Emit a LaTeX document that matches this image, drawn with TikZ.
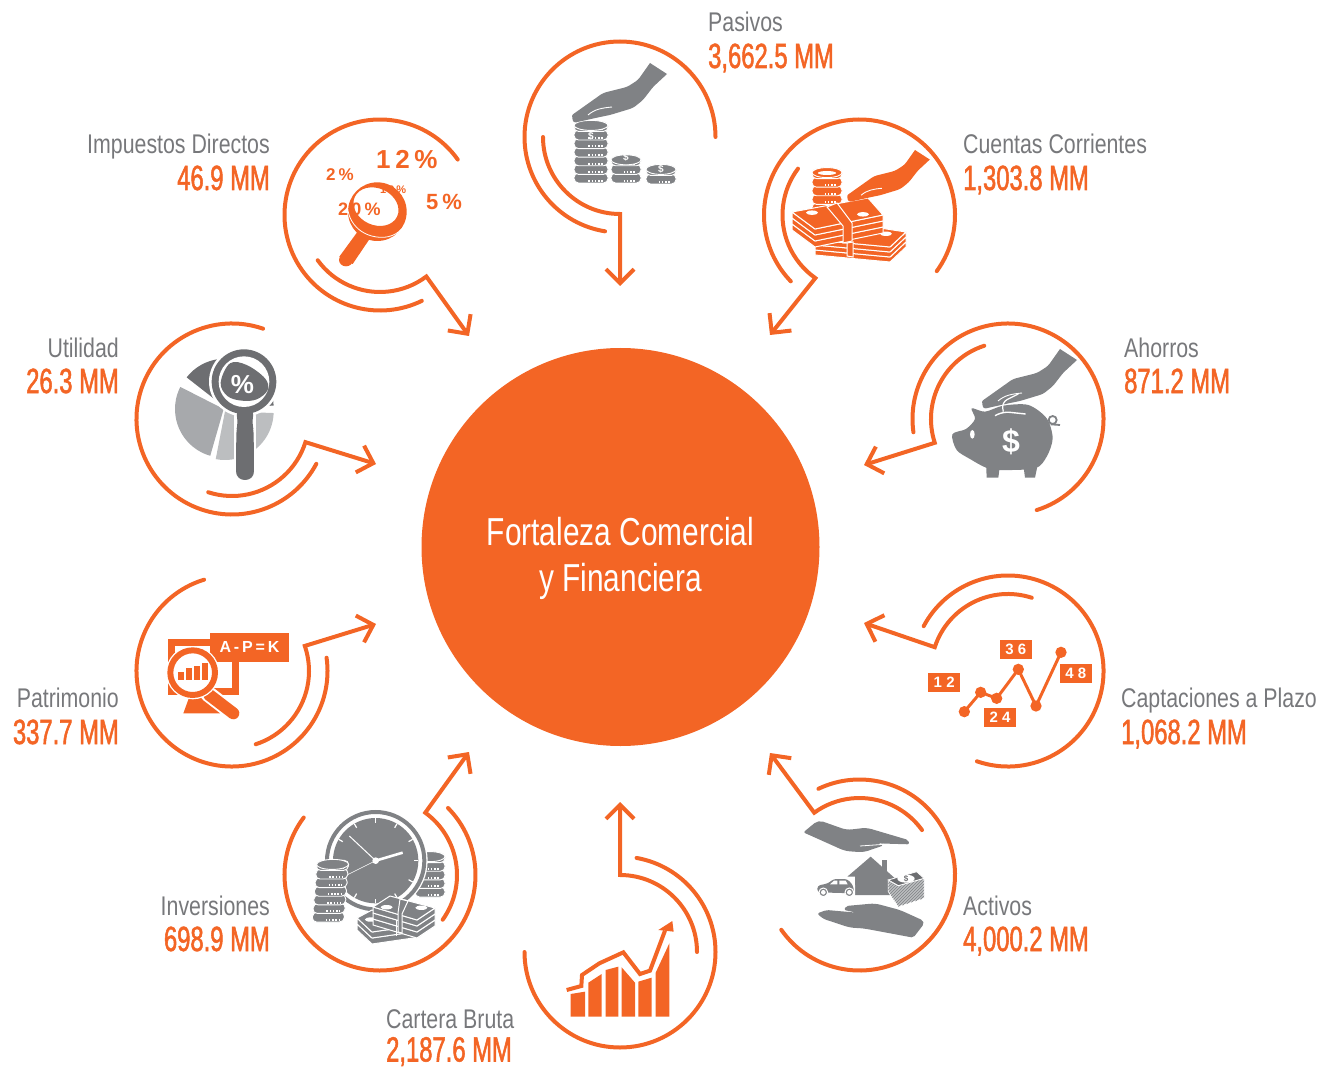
\documentclass[tikz,border=0pt]{standalone}
\usepackage{fontspec}
\usetikzlibrary{calc,arrows.meta,patterns}
\setmainfont{Liberation Sans}
\newfontfamily\labfont[FakeStretch=.79]{Liberation Sans}
\newfontfamily\numfont[FakeStretch=.68,FakeBold=1.5]{Liberation Sans}
\newfontfamily\corefont[FakeStretch=.766]{Liberation Sans}
\newfontfamily\iconfont[LetterSpace=18]{Liberation Sans}
\newfontfamily\tagfont[LetterSpace=28]{Liberation Sans}
\definecolor{brand}{HTML}{F36525}
\definecolor{labgrey}{HTML}{77787B}
\definecolor{icongrey}{HTML}{808285}
\definecolor{icondark}{HTML}{6D6E71}
\definecolor{iconmid}{HTML}{A7A9AC}
\definecolor{iconlight}{HTML}{BCBEC0}
\tikzset{
  ringline/.style={draw=brand,line width=4pt,line cap=round},
  flowline/.style={draw=brand,line width=4pt,line cap=round,line join=miter,miter limit=12,-{Straight Barb[length=14pt,width=28pt]}},
  labeltext/.style={font=\labfont\fontsize{27}{27}\selectfont,text=labgrey,inner sep=0pt},
  valuetext/.style={font=\numfont\fontsize{35}{35}\selectfont,text=brand,inner sep=0pt},
  tagbox/.style={fill=brand,text=white,inner sep=0pt,minimum width=32pt,minimum height=19pt,font=\tagfont\bfseries\fontsize{15}{15}\selectfont},
  pct/.style={text=brand,inner sep=0pt,anchor=base west,font=\iconfont\bfseries},
  whitemark/.style={text=white,inner sep=0pt,font=\bfseries},
}
\newcommand\ringarrow[9]{%
  \coordinate (#1-c) at (#2,#3);
  \coordinate (#1-t) at (#8,#9);
  \draw[ringline] ($(#1-c)+(#4:95.5pt)$) arc[start angle=#4,end angle=#5,radius=95.5pt];
  \draw[flowline] ($(#1-c)+(#6:77pt)$) arc[start angle=#6,end angle=#7,radius=77pt] -- (#1-t);
}
\newcommand\metricL[6]{%
  \node[labeltext,anchor=base west] (#1-l) at (#2,#3) {#5};
  \node[valuetext,anchor=base west] (#1-v) at (#2,#4) {#6};
}
\newcommand\metricR[6]{%
  \node[labeltext,anchor=base east] (#1-l) at (#2,#3) {#5};
  \node[valuetext,anchor=base east] (#1-v) at (#2,#4) {#6};
}
\newcommand\coinstack[5]{%
  \foreach \i in {1,...,#3}{%
    \pgfmathsetmacro\yy{#2-(\i-1)*8.6}
    \draw[white,line width=.9pt,fill=#5,rounded corners=4.5pt] (#1-#4,\yy) rectangle (#1+#4,\yy-10);
    \draw[white,line width=2pt,dash pattern=on 1.5pt off 1.7pt] (#1-#4*.15,\yy-2.2) -- (#1+#4*.7,\yy-2.2);
  }
  \pgfmathsetmacro\yt{#2-(#3-1)*8.6-6}
  \draw[white,line width=.9pt,fill=#5] (#1,\yt) ellipse[x radius=#4pt,y radius=5pt];
}
\newcommand\billstack[7]{%
  \foreach \i in {#5}{%
    \begin{scope}[shift={(0,\i*#6)}]
      \draw[white,line width=1pt,fill=#7,line join=round] #1 -- #4 -- #3 -- ++(0,#6) -- ($#4+(0,#6)$) -- ($#1+(0,#6)$) -- cycle;
    \end{scope}
  }
  \draw[white,line width=1pt,fill=#7,line join=round] #1 -- #2 -- #3 -- #4 -- cycle;
  \fill[white] ($#1!.22!#3$) ellipse[x radius=6pt,y radius=2.2pt];
  \fill[white] ($#1!.78!#3$) ellipse[x radius=6pt,y radius=2.2pt];
}
\newcommand\handicon[4]{%
  \begin{scope}[shift={(#1,#2)},scale=#3]
    \fill[#4] (0,0) -- (17,11) [rounded corners=3pt] -- (3,24) -- (-7,37) -- (-17,45) -- (-40,52) -- (-50,54) -- (-77,60) [rounded corners=1pt] -- (-78,52) [rounded corners=3pt] -- (-47,30) -- (-23,24) -- (-12,17) [sharp corners] -- cycle;
    \draw[white,line width=.9pt] (-62,52) .. controls (-55,46) and (-48,45) .. (-38,44);
  \end{scope}
}
\begin{document}
\begin{tikzpicture}[yscale=-1,x=1pt,y=1pt]
\useasboundingbox (0,0) rectangle (1323,1067);

% centre
\node[circle,fill=brand,minimum size=398pt,inner sep=0pt] (core) at (620.5,547) {};
\node[text=white,inner sep=0pt,align=center,font=\corefont\fontsize{39}{46}\selectfont] (coretext) at (620.5,558.5) {Fortaleza Comercial\\y Financiera};

% rings and arrows
\ringarrow{pas}{620}{137}{0}{-261}{180}{90}{620}{286}
\ringarrow{cue}{859.5}{215}{36}{-224}{217}{125}{770}{335}
\ringarrow{aho}{1008}{419}{72.5}{-188}{-108}{-198}{864}{465}
\ringarrow{cap}{1008}{671}{109}{-152}{-72}{-162}{864}{623}
\ringarrow{act}{859.5}{875}{145}{-115.5}{-35.7}{-126}{770}{753}
\ringarrow{car}{620}{952}{180}{-80}{0}{-90}{620}{802}
\ringarrow{inv}{380}{875}{-143}{-404.6}{35.5}{-54}{469}{752}
\ringarrow{pat}{232}{671}{-107}{-368}{72}{-19}{376}{624}
\ringarrow{uti}{232}{419}{-71}{-332}{108}{17.5}{376}{464}
\ringarrow{imp}{380}{215}{-35.5}{-296}{144}{53}{469}{336}

% labels
\metricL{pas}{708}{32}{68}{Pasivos}{3,662.5 MM}
\metricL{cue}{963}{154}{190}{Cuentas Corrientes}{1,303.8 MM}
\metricL{aho}{1124}{357}{393}{Ahorros}{871.2 MM}
\metricL{cap}{1121}{707}{744}{Captaciones a Plazo}{1,068.2 MM}
\metricL{act}{963}{915}{951}{Activos}{4,000.2 MM}
\metricL{car}{386}{1028}{1061.5}{Cartera Bruta}{2,187.6 MM}
\metricR{inv}{270}{915}{951}{Inversiones}{698.9 MM}
\metricR{pat}{119}{707}{744}{Patrimonio}{337.7 MM}
\metricR{uti}{119}{357}{393}{Utilidad}{26.3 MM}
\metricR{imp}{270}{154}{190}{Impuestos Directos}{46.9 MM}

% ---- Pasivos icon
\coinstack{591}{183}{7}{17}{icongrey}
\coinstack{626}{183}{3}{15}{icongrey}
\coinstack{661}{184}{2}{15}{icongrey}
\node[whitemark,font=\bfseries\fontsize{10}{10}\selectfont] (pasd1) at (591,136) {\$};
\node[whitemark,font=\bfseries\fontsize{10}{10}\selectfont] (pasd2) at (626,157) {\$};
\node[whitemark,font=\bfseries\fontsize{10}{10}\selectfont] (pasd3) at (661,169) {\$};
\handicon{650}{63}{1}{icongrey}

% ---- Cuentas Corrientes icon
\coinstack{827}{213}{5}{15}{brand}
\fill[white] (827,173) ellipse[x radius=9pt,y radius=2pt];
\billstack{(815,240)}{(860,225)}{(906,232)}{(890,247)}{2,1,0}{5}{brand}
\billstack{(792,212)}{(868,198)}{(883,215)}{(815,229)}{2,1,0}{6}{brand}
\draw[white,line width=1pt,fill=brand] (827,207) -- (837,203) -- (852,223) -- (852,241) -- (843,243) -- (843,226) -- cycle;
\draw[white,line width=1pt,fill=brand] (847,243) -- (853,242) -- (853,257) -- (847,256) -- cycle;
\handicon{915}{150}{.87}{brand}

% ---- Impuestos icon
\node[pct,font=\iconfont\bfseries\fontsize{26}{26}\selectfont] (p12) at (376,169) {12\%};
\node[pct,font=\iconfont\bfseries\fontsize{17}{17}\selectfont] (p2) at (326,181) {2\%};
\node[pct,font=\iconfont\bfseries\fontsize{22}{22}\selectfont] (p5) at (426,210) {5\%};
\node[pct,font=\iconfont\bfseries\fontsize{18}{18}\selectfont] (p20) at (338,216) {20\%};
\node[pct,font=\iconfont\bfseries\fontsize{11}{11}\selectfont] (p10) at (380,194) {10\%};
\begin{scope}[shift={(270,110)},scale=1/3]
  \fill[brand] (265,362) -- (300,385) -- (248,462) -- (208,440) -- cycle;
  \fill[brand] (228,450) ellipse[x radius=21pt,y radius=19pt];
  \fill[brand,even odd rule] (322,305) circle[radius=88pt] (318,290) ellipse[x radius=70pt,y radius=55pt,rotate=25];
  \draw[white,line width=.8pt] (235,262) .. controls (222,320) and (260,378) .. (330,382) .. controls (365,384) and (395,367) .. (409,335);
\end{scope}

% ---- Utilidad icon
\begin{scope}[shift={(225,409)},scale=1/3]
  \fill[icondark] (0,-5) -- ++(-142:146pt) arc[start angle=-142,end angle=-2,radius=146pt] -- cycle;
  \fill[iconmid] (-4,0) -- ++(106:146pt) arc[start angle=106,end angle=207,radius=146pt] -- cycle;
  \fill[iconlight] (0,7) -- ++(2:146pt) arc[start angle=2,end angle=101,radius=146pt] -- cycle;
\end{scope}
\begin{scope}[shift={(130,310)},scale=1/3]
  \draw[white,line width=22pt,line cap=round] (345,320) -- (345,485);
  \fill[white] (342,215) circle[radius=105pt];
  \fill[icondark,rounded corners=6pt] (318,300) -- (324,340) -- (319,360) [rounded corners=8.5pt] -- (318,510) -- (372,510) [rounded corners=6pt] -- (371,360) -- (366,340) -- (372,300) -- cycle;
  \fill[icondark] (342,215) circle[radius=97pt];
  \fill[white] (342,215) circle[radius=76pt];
  \fill[icondark] plot[smooth cycle,tension=.6] coordinates {(272,218) (300,160) (350,165) (405,205) (413,240) (380,268) (335,272) (292,258)};
  \node[whitemark,font=\bfseries\fontsize{26}{26}\selectfont] (utipct) at (337,224) {\%};
\end{scope}

% ---- Patrimonio icon
\begin{scope}[shift={(130,570)},scale=1/3]
  \fill[brand] (115,207) rectangle (327,375);
  \fill[white] (135,227) rectangle (307,355);
  \fill[brand] (180,375) -- (160,430) -- (270,430) -- (250,375) -- cycle;
  \draw[white,line width=16pt,line cap=round] (235,372) -- (310,430);
  \draw[brand,line width=12pt,line cap=round] (238,375) -- (310,430);
  \node[fill=brand,text=white,inner sep=0pt,minimum width=79pt,minimum height=29pt,font=\iconfont\bfseries\fontsize{16}{16}\selectfont] (apk) at (358.5,231.5) {A-P=K};
  \fill[white] (188,308) circle[radius=80pt];
  \fill[brand,even odd rule] (188,308) circle[radius=76pt] (188,308) circle[radius=58pt];
  \fill[brand] (145,305) rectangle (162,330);
  \fill[brand] (167,295) rectangle (187,330);
  \fill[brand] (192,288) rectangle (210,330);
  \fill[brand] (217,280) rectangle (235,330);
\end{scope}

% ---- Inversiones icon
\coinstack{430}{897}{5}{15}{icongrey}
\begin{scope}[shift={(280,750)},scale=1/3]
  \coordinate (clk) at (287,332);
  \fill[white] (clk) circle[radius=156pt];
  \draw[icongrey,line width=4pt] (clk) circle[radius=146pt];
  \fill[icongrey] (clk) circle[radius=128pt];
  \foreach \a in {0,30,...,330}{\draw[white,line width=1.2pt] ($(clk)+(\a:128pt)$) -- ($(clk)+(\a:114pt)$);}
  \draw[white,line width=1pt] (clk) -- (208,258);
  \draw[white,line width=2.6pt] (clk) -- (368,308);
  \draw[white,line width=.6pt] (clk) -- (195,378);
  \fill[white] (clk) circle[radius=10pt];
\end{scope}
\begin{scope}[shift={(328,922)},xslant=-0.08]
  \coinstack{0}{0}{7}{16}{icongrey}
\end{scope}
\billstack{(357,918)}{(372,910)}{(420,925)}{(372,932)}{1,0}{6}{icongrey}
\billstack{(373,907)}{(390,896)}{(435,908)}{(417,920)}{2,1,0}{6}{icongrey}
\draw[white,line width=1pt,fill=icongrey] (400,899) -- (408,901) -- (402,914) -- (402,933) -- (398,932) -- (398,913) -- cycle;
\draw[white,line width=1pt] (396,920) -- (396,936);

% ---- Cartera Bruta icon
\begin{scope}[shift={(510,790)},scale=1/3]
  \fill[brand] (182,680) -- (182,612) -- (225,605) -- (225,680) -- cycle;
  \fill[brand] (235,680) -- (235,578) -- (275,552) -- (275,680) -- cycle;
  \fill[brand] (287,680) -- (287,540) -- (325,530) -- (325,680) -- cycle;
  \fill[brand] (335,680) -- (335,532) -- (375,578) -- (375,680) -- cycle;
  \fill[brand] (385,680) -- (385,575) -- (425,563) -- (425,680) -- cycle;
  \fill[brand] (437,680) -- (437,548) -- (478,460) -- (478,680) -- cycle;
  \draw[brand,line width=4pt,line join=miter] (170,600) -- (214,588) -- (216,555) -- (268,520) -- (340,487) -- (390,552) -- (420,542) -- (465,422);
  \fill[brand] (445,420) -- (487,393) -- (491,425) -- cycle;
\end{scope}

% ---- Activos icon
\begin{scope}[shift={(760,745)},scale=1/3]
  \fill[icongrey,rounded corners=2pt] (175,225) -- (130,262) [rounded corners=5pt] -- (255,318) -- (310,322) -- (375,300) -- (348,295) [rounded corners=2pt] -- (448,298) -- (445,285) [rounded corners=5pt] -- (320,248) -- (260,255) -- cycle;
  \draw[white,line width=.8pt] (300,303) -- (372,298);
  \fill[icongrey,rounded corners=2pt] (497,530) -- (460,578) [rounded corners=5pt] -- (310,550) -- (270,548) -- (185,520) [rounded corners=2pt] -- (172,505) -- (200,495) -- (290,503) -- (252,495) -- (258,483) [rounded corners=5pt] -- (345,475) -- (420,495) -- cycle;
  \fill[icongrey] (367,345) rectangle (380,385);
  \fill[icongrey] (332,335) -- (262,395) -- (285,395) -- (285,450) -- (390,450) -- (390,405) -- (405,400) -- cycle;
  \fill[white] (262,407) -- (285,420) -- (285,452) -- (262,452) -- cycle;
  \fill[icongrey,rounded corners=3pt] (172,442) -- (172,422) -- (205,415) -- (220,402) -- (262,402) -- (280,422) -- (282,445) -- cycle;
  \fill[white] (210,418) -- (222,407) -- (232,407) -- (232,418) -- cycle;
  \fill[white] (238,407) -- (257,407) -- (263,418) -- (238,418) -- cycle;
  \draw[white,line width=1pt,fill=icongrey] (190,442) circle[radius=13pt];
  \draw[white,line width=1pt,fill=icongrey] (268,442) circle[radius=13pt];
  \fill[white] (190,442) circle[radius=7pt];
  \fill[white] (268,442) circle[radius=7pt];
  \path[draw=white,line width=.8pt,fill=iconlight] (385,405) -- (415,422) -- (492,400) -- (492,460) -- (415,485) -- (385,440) -- cycle;
  \path[pattern=north east lines,pattern color=icongrey] (385,405) -- (415,422) -- (492,400) -- (492,460) -- (415,485) -- (385,440) -- cycle;
  \draw[white,line width=.8pt,fill=icondark] (385,405) -- (470,380) -- (492,400) -- (415,422) -- cycle;
  \fill[white] (438,401) ellipse[x radius=26pt,y radius=12pt];
  \node[text=icondark,inner sep=0pt,font=\bfseries\fontsize{8}{8}\selectfont] (actd) at (438,401) {\$};
\end{scope}

% ---- Captaciones icon
\begin{scope}[shift={(860,570)},scale=1/3]
  \draw[brand,line width=3pt] (313,425) -- (362,367) -- (410,385) -- (475,298) -- (528,408) -- (603,247);
  \foreach \p in {(313,425),(362,367),(410,385),(475,298),(528,408),(603,247)}{\fill[brand] \p circle[radius=17pt];}
  \node[tagbox] (t12) at (252.5,337.5) {12};
  \node[tagbox] (t36) at (467.5,238.5) {36};
  \node[tagbox] (t24) at (420,441.5) {24};
  \node[tagbox] (t48) at (647.5,310) {48};
\end{scope}

% ---- Ahorros icon
\begin{scope}[shift={(860,315)},scale=1/3]
  \fill[icongrey] plot[smooth cycle,tension=.5] coordinates {(277,358) (318,342) (345,312) (335,280) (375,290) (430,272) (505,270) (560,310) (578,370) (560,425) (525,460) (420,465) (378,458) (330,432) (290,405)};
  \fill[icongrey] (378,440) -- (380,488) -- (415,488) -- (420,450) -- cycle;
  \fill[icongrey] (490,450) -- (495,488) -- (525,488) -- (535,440) -- cycle;
  \fill[white] (337,358) ellipse[x radius=7pt,y radius=13pt];
  \draw[icongrey,line width=1.8pt] (578,315) circle[radius=12pt];
  \draw[icongrey,line width=1.8pt] (572,328) -- (600,330);
\end{scope}
\handicon{1060}{349}{1}{icongrey}
\begin{scope}[shift={(860,315)},scale=1/3]
  \draw[white,line width=1.4pt,rounded corners=6pt] (405,302) -- (430,290) -- (497,297);
  \draw[white,line width=1.2pt,rounded corners=6pt] (430,290) -- (425,262) -- (475,237);
  \node[whitemark,font=\bfseries\fontsize{32}{32}\selectfont] (ahod) at (453,380) {\$};
\end{scope}
\end{tikzpicture}
\end{document}
